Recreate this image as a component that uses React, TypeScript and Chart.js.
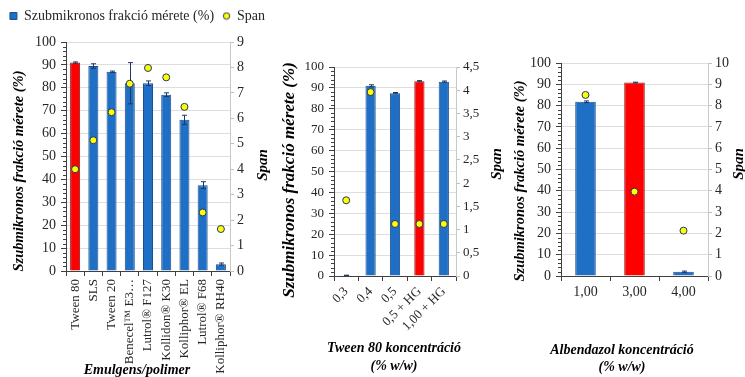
import { useEffect, useRef } from "react";
import { Chart, registerables } from "chart.js";
Chart.register(...registerables);

const FONT = '"Liberation Serif", "Times New Roman", serif';
const BLUE = "#1f6fc4";
const BLUE_EDGE = "#1d4f91";
const RED = "#ff0000";
const RED_EDGE = "#8a2020";
const YELLOW = "#ffff00";
const POINT_EDGE = "#1f3864";
const AXIS = "#404040";
const GRID = "#dedede";
const TEXT = "#262626";

const fractionTitle = "Szubmikronos frakció mérete (%)";
const spanTitle = "Span";

// ---- Chart 1: Emulgens/polimer ----
const emulgensLabels = [
  "Tween 80",
  "SLS",
  "Tween 20",
  "Benecel™ E3…",
  "Lutrol® F127",
  "Kollidon® K30",
  "Kolliphor® EL",
  "Lutrol® F68",
  "Kolliphor® RH40",
];
const emulgensFraction = [91, 89.5, 87, 82, 82, 77, 66, 37.5, 3];
const emulgensError = [0.3, 1, 0.3, 9, 1, 0.8, 2, 1.5, 0.5];
const emulgensSpan = [4.0, 5.14, 6.24, 7.36, 7.98, 7.61, 6.45, 2.3, 1.65];
const emulgensHighlight = 0;
const emulgensSpanMax = 9;
const emulgensSpanStep = 1;
const emulgensXTitle = ["Emulgens/polimer"];

// ---- Chart 2: Tween 80 koncentráció ----
const tweenLabels = ["0,3", "0,4", "0,5", "0,5 + HG", "1,00 + HG"];
const tweenFraction = [0.3, 91, 87.5, 93.2, 93];
const tweenError = [0.1, 0.5, 0.3, 0.3, 0.3];
const tweenSpan = [1.63, 3.96, 1.12, 1.12, 1.12];
const tweenHighlight = 3;
const tweenSpanMax = 4.5;
const tweenSpanStep = 0.5;
const tweenXTitle = ["Tween 80 koncentráció", "(% w/w)"];

// ---- Chart 3: Albendazol koncentráció ----
const albLabels = ["1,00", "3,00", "4,00"];
const albFraction = [81.8, 90.8, 2];
const albError = [0.4, 0.2, 0.3];
const albSpan = [8.5, 3.96, 2.13];
const albHighlight = 1;
const albSpanMax = 10;
const albSpanStep = 1;
const albXTitle = ["Albendazol koncentráció", "(% w/w)"];

const fractionMax = 100;
const fractionStep = 10;
const fractionMinorStep = 2;

const errorBarPlugin = {
  id: "errorBars",
  afterDatasetDraw(chart: any, args: any, opts: any) {
    if (args.index !== 0 || !opts || !opts.values) return;
    const meta = chart.getDatasetMeta(0);
    const ys = chart.scales.y;
    const data = chart.data.datasets[0].data;
    const ctx = chart.ctx;
    ctx.save();
    ctx.strokeStyle = POINT_EDGE;
    ctx.lineWidth = 1;
    meta.data.forEach((bar: any, i: number) => {
      const e = opts.values[i];
      if (!e) return;
      const v = data[i];
      const x = Math.round(bar.x) + 0.5;
      const yt = ys.getPixelForValue(v + e);
      const yb = ys.getPixelForValue(Math.max(0, v - e));
      ctx.beginPath();
      ctx.moveTo(x, yt);
      ctx.lineTo(x, yb);
      ctx.moveTo(x - 2.5, yt);
      ctx.lineTo(x + 2.5, yt);
      ctx.moveTo(x - 2.5, yb);
      ctx.lineTo(x + 2.5, yb);
      ctx.stroke();
    });
    ctx.restore();
  },
};

const minorTickPlugin = {
  id: "minorTicks",
  afterDraw(chart: any) {
    const s = chart.scales.y;
    const ctx = chart.ctx;
    ctx.save();
    ctx.strokeStyle = AXIS;
    ctx.lineWidth = 1;
    for (let v = 0; v <= fractionMax; v += fractionMinorStep) {
      if (v % fractionStep === 0) continue;
      const y = Math.round(s.getPixelForValue(v)) + 0.5;
      ctx.beginPath();
      ctx.moveTo(s.right - 3, y);
      ctx.lineTo(s.right, y);
      ctx.stroke();
    }
    ctx.restore();
  },
};

const legendGapPlugin = {
  id: "legendGap",
  beforeLayout(chart: any, _args: any, opts: any) {
    const lg = chart.legend;
    if (lg && !lg._gapPatched && opts && opts.extra) {
      const orig = lg.fit.bind(lg);
      lg.fit = () => {
        orig();
        lg.height += opts.extra;
      };
      lg._gapPatched = true;
    }
  },
};

// Axis titles drawn bottom-to-top (as in the reference) at given positions
const titlesPlugin = {
  id: "titles",
  afterDraw(chart: any, _args: any, opts: any) {
    if (!opts || !opts.items) return;
    const ctx = chart.ctx;
    opts.items.forEach((it: any) => {
      ctx.save();
      ctx.font = `italic bold ${it.size}px ${FONT}`;
      ctx.fillStyle = "#000";
      ctx.textAlign = "center";
      ctx.textBaseline = "middle";
      ctx.translate(it.x, it.y);
      if (it.rot) ctx.rotate(-Math.PI / 2);
      ctx.fillText(it.text, 0, 0);
      ctx.restore();
    });
  },
};

let dotCache: HTMLCanvasElement | null = null;
function legendDot(): HTMLCanvasElement {
  if (dotCache) return dotCache;
  const c = document.createElement("canvas");
  c.width = 9;
  c.height = 9;
  const g = c.getContext("2d") as CanvasRenderingContext2D;
  g.beginPath();
  g.arc(4.5, 4.5, 3.2, 0, Math.PI * 2);
  g.fillStyle = YELLOW;
  g.fill();
  g.strokeStyle = POINT_EDGE;
  g.lineWidth = 1;
  g.stroke();
  dotCache = c;
  return c;
}

type Opts = {
  labels: string[];
  values: number[];
  errors: number[];
  spans: number[];
  highlight: number;
  spanMax: number;
  spanStep: number;
  tickSize: number;
  xTickSize: number;
  rotation: number;
  xTitle: string[];
  leftW: number;
  rightW: number;
  xH: number;
  padTop: number;
  legend: boolean;
  legendExtra: number;
  barPct: number;
  leftTitle: { x: number; y: number; size: number };
  rightTitle: { x: number; y: number; size: number };
  xTitlePos: { x: number; y: number; size: number; gap: number };
};

function makeConfig(o: Opts): any {
  const colors = o.values.map((_, i) => (i === o.highlight ? RED : BLUE));
  const edges = o.values.map((_, i) => (i === o.highlight ? RED_EDGE : BLUE_EDGE));
  const titleItems = [
    { text: fractionTitle, x: o.leftTitle.x, y: o.leftTitle.y, size: o.leftTitle.size, rot: true },
    { text: spanTitle, x: o.rightTitle.x, y: o.rightTitle.y, size: o.rightTitle.size, rot: true },
    ...o.xTitle.map((t, i) => ({
      text: t,
      x: o.xTitlePos.x,
      y: o.xTitlePos.y + i * o.xTitlePos.gap,
      size: o.xTitlePos.size,
      rot: false,
    })),
  ];
  return {
    type: "bar",
    data: {
      labels: o.labels,
      datasets: [
        {
          type: "bar",
          label: fractionTitle,
          data: o.values,
          backgroundColor: colors,
          borderColor: edges,
          borderWidth: 1,
          yAxisID: "y",
          order: 2,
          barPercentage: o.barPct,
          categoryPercentage: 1,
        },
        {
          type: "line",
          label: spanTitle,
          data: o.spans,
          yAxisID: "y1",
          showLine: false,
          pointRadius: 3.5,
          pointBackgroundColor: YELLOW,
          pointBorderColor: POINT_EDGE,
          pointBorderWidth: 1,
          backgroundColor: YELLOW,
          borderColor: POINT_EDGE,
          order: 1,
        },
      ],
    },
    options: {
      responsive: false,
      animation: false,
      devicePixelRatio: 1,
      layout: { padding: { top: o.padTop, left: 0, right: 0, bottom: 0 } },
      plugins: {
        legend: {
          display: o.legend,
          position: "top",
          labels: {
            usePointStyle: true,
            boxWidth: 7,
            boxHeight: 7,
            padding: 9,
            color: TEXT,
            font: { family: FONT, size: 14 },
            generateLabels: (chart: any) => {
              const items = Chart.defaults.plugins.legend.labels.generateLabels(chart);
              return items
                .map((it: any) =>
                  it.datasetIndex === 0
                    ? { ...it, pointStyle: "rect", fillStyle: BLUE, strokeStyle: BLUE_EDGE, lineWidth: 1 }
                    : { ...it, pointStyle: legendDot(), fillStyle: YELLOW, strokeStyle: POINT_EDGE, lineWidth: 1 }
                )
                .sort((a: any, b: any) => a.datasetIndex - b.datasetIndex);
            },
          },
        },
        tooltip: { enabled: false },
        errorBars: { values: o.errors },
        legendGap: { extra: o.legendExtra },
        titles: { items: titleItems },
      },
      scales: {
        x: {
          offset: true,
          grid: { display: true, drawOnChartArea: false, tickLength: 5, tickColor: AXIS, offset: true },
          border: { color: AXIS },
          ticks: {
            autoSkip: false,
            maxRotation: o.rotation,
            minRotation: o.rotation,
            font: { family: FONT, size: o.xTickSize },
            color: TEXT,
            padding: 3,
          },
          title: { display: false },
          afterFit: (s: any) => {
            s.height = o.xH;
          },
        },
        y: {
          position: "left",
          min: 0,
          max: fractionMax,
          ticks: { stepSize: fractionStep, font: { family: FONT, size: o.tickSize }, color: TEXT, padding: 5 },
          grid: { color: GRID, tickLength: 5, tickColor: AXIS },
          border: { color: AXIS },
          title: { display: false },
          afterFit: (s: any) => {
            s.width = o.leftW;
          },
        },
        y1: {
          position: "right",
          min: 0,
          max: o.spanMax,
          ticks: {
            stepSize: o.spanStep,
            font: { family: FONT, size: o.tickSize },
            color: TEXT,
            padding: 3,
            callback: (v: any) => String(v).replace(".", ","),
          },
          grid: { drawOnChartArea: false, tickLength: 4, tickColor: "#bfbfbf" },
          border: { color: "#c8c8c8" },
          title: { display: false },
          afterFit: (s: any) => {
            s.width = o.rightW;
          },
        },
      },
    },
    plugins: [errorBarPlugin, minorTickPlugin, legendGapPlugin, titlesPlugin],
  };
}

function ChartBox({ left, width, opts }: { left: number; width: number; opts: Opts }) {
  const ref = useRef<HTMLCanvasElement>(null);
  useEffect(() => {
    const chart = new Chart(ref.current as HTMLCanvasElement, makeConfig(opts));
    return () => chart.destroy();
  }, []);
  return (
    <canvas
      ref={ref}
      width={width}
      height={377}
      style={{ position: "absolute", left, top: 0, width, height: 377 }}
    />
  );
}

export default function App() {
  return (
    <div style={{ position: "fixed", left: 0, top: 0, width: 745, height: 377, background: "#fff", overflow: "hidden" }}>
      <ChartBox
        left={0}
        width={275}
        opts={{
          labels: emulgensLabels,
          values: emulgensFraction,
          errors: emulgensError,
          spans: emulgensSpan,
          highlight: emulgensHighlight,
          spanMax: emulgensSpanMax,
          spanStep: emulgensSpanStep,
          tickSize: 14,
          xTickSize: 13,
          rotation: 90,
          xTitle: emulgensXTitle,
          leftW: 66,
          rightW: 45,
          xH: 106,
          padTop: 0,
          legend: true,
          legendExtra: 9,
          barPct: 0.55,
          leftTitle: { x: 19, y: 171, size: 14.5 },
          rightTitle: { x: 263, y: 165, size: 15 },
          xTitlePos: { x: 137, y: 370, size: 14, gap: 0 },
        }}
      />
      <ChartBox
        left={275}
        width={230}
        opts={{
          labels: tweenLabels,
          values: tweenFraction,
          errors: tweenError,
          spans: tweenSpan,
          highlight: tweenHighlight,
          spanMax: tweenSpanMax,
          spanStep: tweenSpanStep,
          tickSize: 13,
          xTickSize: 13,
          rotation: 45,
          xTitle: tweenXTitle,
          leftW: 59,
          rightW: 49,
          xH: 101,
          padTop: 67,
          legend: false,
          legendExtra: 0,
          barPct: 0.42,
          leftTitle: { x: 15, y: 180, size: 17 },
          rightTitle: { x: 222, y: 164, size: 15 },
          xTitlePos: { x: 119, y: 348, size: 14, gap: 18 },
        }}
      />
      <ChartBox
        left={505}
        width={240}
        opts={{
          labels: albLabels,
          values: albFraction,
          errors: albError,
          spans: albSpan,
          highlight: albHighlight,
          spanMax: albSpanMax,
          spanStep: albSpanStep,
          tickSize: 14,
          xTickSize: 14,
          rotation: 0,
          xTitle: albXTitle,
          leftW: 56,
          rightW: 37,
          xH: 101,
          padTop: 63,
          legend: false,
          legendExtra: 0,
          barPct: 0.42,
          leftTitle: { x: 15, y: 181, size: 14.5 },
          rightTitle: { x: 234, y: 164, size: 15 },
          xTitlePos: { x: 117, y: 350, size: 14, gap: 17 },
        }}
      />
    </div>
  );
}
